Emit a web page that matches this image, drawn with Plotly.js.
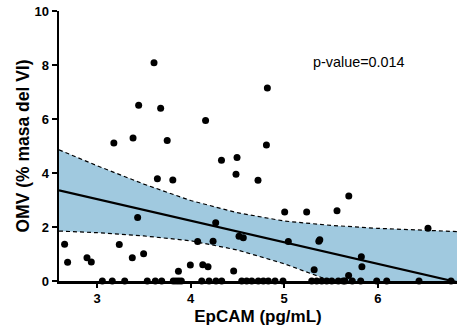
<!DOCTYPE html>
<html>
<head>
<meta charset="utf-8">
<script src="https://cdn.plot.ly/plotly-3.0.1.min.js"></script>
<style>html,body{margin:0;padding:0;background:#fff;}#chart{width:457px;height:333px;}</style>
</head>
<body>
<div id="chart"></div>
<script>
// Scatter points (non-zero)
const epcam = [3.609,3.445,3.68,4.16,3.18,3.385,3.75,4.82,4.81,2.654,2.686,2.893,2.939,3.238,3.377,3.498,3.434,3.645,3.81,3.87,3.997,4.075,4.13,4.186,4.268,4.24,4.33,4.485,4.496,4.46,4.517,4.563,4.72,5.005,5.24,5.564,5.69,5.044,5.37,5.38,5.32,5.824,5.83,5.688,6.536];
const omv   = [8.08,6.51,6.40,5.94,5.11,5.30,5.20,7.15,5.04,1.36,0.69,0.86,0.70,1.35,0.86,1.01,2.35,3.79,3.74,0.36,0.59,1.46,0.60,0.53,2.16,1.47,4.47,3.95,4.57,0.37,1.66,1.60,3.73,2.56,2.56,2.60,3.15,1.46,1.47,1.53,0.42,0.90,0.53,0.20,1.95];
// Points with OMV = 0
const epcamZero = [3.057,3.163,3.296,3.537,3.623,3.691,3.815,3.844,3.873,3.901,4.119,4.197,4.271,4.332,4.546,4.599,4.653,4.723,4.777,4.830,4.902,4.987,5.294,5.347,5.401,5.454,5.508,5.578,5.631,5.649,5.727,5.817,5.988,6.095,6.440,6.782];
const omvZero = epcamZero.map(() => 0);
// Regression line and 95% confidence band
const fitX = [2.594, 6.846];
const fitY = [3.36, -0.04];
const bandX = [2.594, 3.0, 3.5, 4.0, 4.5, 5.0, 5.5, 6.0, 6.5, 6.846];
const bandUpper = [4.86, 4.27, 3.59, 2.98, 2.53, 2.22, 2.06, 1.95, 1.88, 1.83];
const bandLower = [1.85, 1.79, 1.67, 1.49, 1.15, 0.64, 0.00, -0.69, -1.42, -1.93];
const xTicks = [3, 4, 5, 6];
const yTicks = [0, 2, 4, 6, 8, 10];
const pText = "p-value=0.014";

const font = "Liberation Sans, Arial, sans-serif";
const fill = "#a0c9df";

const traces = [
  {x: bandX, y: bandLower, mode: "lines", line: {color: "black", width: 1.2, dash: "4px,3px"}, hoverinfo: "skip", showlegend: false},
  {x: bandX, y: bandUpper, mode: "lines", fill: "tonexty", fillcolor: fill, line: {color: "black", width: 1.2, dash: "4px,3px"}, hoverinfo: "skip", showlegend: false},
  {x: fitX, y: fitY, mode: "lines", line: {color: "black", width: 2.2}, showlegend: false},
  {x: epcamZero, y: omvZero, mode: "markers", marker: {color: "black", size: 7}, cliponaxis: false, showlegend: false},
  {x: epcam, y: omv, mode: "markers", marker: {color: "black", size: 7}, cliponaxis: false, showlegend: false}
];

const layout = {
  width: 457, height: 333,
  margin: {l: 59, r: 0, t: 11, b: 52},
  paper_bgcolor: "white", plot_bgcolor: "white",
  font: {family: font, color: "black"},
  xaxis: {
    range: [2.594, 6.846], tickvals: xTicks, ticktext: xTicks.map(String),
    showgrid: false, zeroline: false, showline: true, linecolor: "black", linewidth: 2.5,
    ticks: "outside", ticklen: 4, tickwidth: 2, tickcolor: "black",
    tickfont: {family: font, size: 13, weight: "bold"},
    title: {text: "EpCAM (pg/mL)", font: {family: font, size: 17, weight: "bold"}, standoff: 5}
  },
  yaxis: {
    range: [0, 10], tickvals: yTicks, ticktext: yTicks.map(String),
    showgrid: false, zeroline: false, showline: true, linecolor: "black", linewidth: 2.5,
    ticks: "outside", ticklen: 5, tickwidth: 2, tickcolor: "black",
    tickfont: {family: font, size: 13, weight: "bold"},
    title: {text: "OMV (% masa del VI)", font: {family: font, size: 17.5, weight: "bold"}, standoff: 1}
  },
  annotations: [{x: 5.80, y: 8.11, xref: "x", yref: "y", text: pText, showarrow: false, font: {family: font, size: 14.4, color: "black"}}]
};

Plotly.newPlot("chart", traces, layout, {displayModeBar: false, staticPlot: true});
</script>
</body>
</html>
